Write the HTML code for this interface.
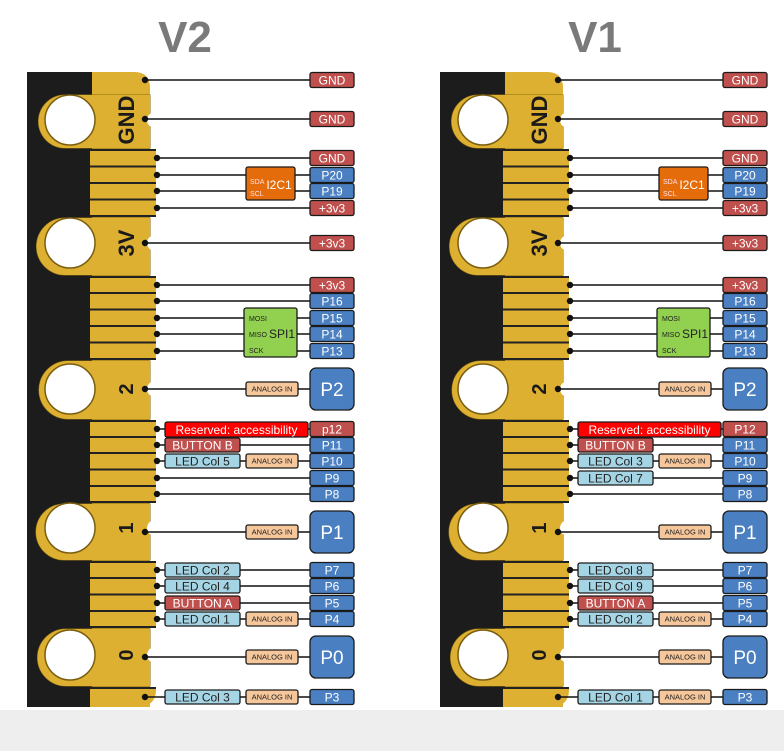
<!DOCTYPE html>
<html><head><meta charset="utf-8">
<style>
html,body{margin:0;padding:0;background:#fff;width:784px;height:751px;overflow:hidden}
svg{display:block}
text{font-family:"Liberation Sans",sans-serif}
</style></head>
<body>
<svg id="s" width="784" height="751" viewBox="0 0 784 751" xmlns="http://www.w3.org/2000/svg">
<rect x="0" y="710" width="784" height="41" fill="#eeeeee"/>
<text x="185" y="52" font-size="44" font-weight="bold" fill="#7a7a7a" text-anchor="middle">V2</text>
<text x="595" y="52" font-size="44" font-weight="bold" fill="#7a7a7a" text-anchor="middle">V1</text>
</svg>
<script>
const S=document.getElementById('s');const NS='http://www.w3.org/2000/svg';
function el(t,a,txt){const e=document.createElementNS(NS,t);for(const k in a)e.setAttribute(k,a[k]);if(txt!==undefined)e.textContent=txt;S.appendChild(e);return e;}
const RED='#c0504d',BLUE='#4a7fc1',LB='#a5d5e4',PE='#f7c79c',GOLD='#ddb031';
function box(x,y,w,h,fill,txt,fs,col,r){el('rect',{x:x,y:y,width:w,height:h,rx:r||2,fill:fill,stroke:'#1a1a1a','stroke-width':1.3});
 el('text',{x:x+w/2,y:y+h/2+fs*0.36,'font-size':fs,fill:col||'#fff','text-anchor':'middle'},txt);}
function line(x1,y1,x2,y2){el('line',{x1:x1,y1:y1,x2:x2,y2:y2,stroke:'#111','stroke-width':1.6});}
function panel(o,v1){
 el('rect',{x:o+27,y:72,width:66,height:635,fill:'#1c1c1c'});
 el('path',{d:`M${o+92} 72 H${o+134} Q${o+150} 72 ${o+150} 88 V707 H${o+92} Z`,fill:GOLD});
 const groups=[[150,216,[158,175,191,208]],[277,359,[285,301,318,334,351]],[421,502,[429,445,461,478,494]],[562,627,[570,586,603,619]]];
 groups.forEach(g=>{el('rect',{x:o+90,y:g[0],width:66,height:g[1]-g[0],fill:GOLD});
  for(let i=0;i<g[2].length-1;i++){const m=(g[2][i]+g[2][i+1])/2;el('rect',{x:o+90,y:m-1,width:66,height:2,fill:'#222'});}
  el('rect',{x:o+90,y:g[0]-1,width:66,height:2,fill:'#222'});el('rect',{x:o+90,y:g[1]-1,width:66,height:2,fill:'#222'});});
 el('path',{d:`M${o+90} 688 H${o+156} V690 Q${o+156} 707 ${o+136} 707 H${o+90} Z`,fill:GOLD});
 el('rect',{x:o+90,y:687,width:66,height:2,fill:'#222'});
 const pads=[[93,150,120,'GND'],[216,277,243,'3V'],[359,421,389,'2'],[502,562,528,'1'],[627,688,655,'0']];
 pads.forEach(p=>{const t=p[0]+2,b=p[1]-2,c=p[2],r=Math.min(c-t,b-c);
  el('path',{d:`M${o+150} ${t} V${b} H${o+40+r} A${r} ${r} 0 0 1 ${o+40+r} ${t} Z`,fill:GOLD,stroke:'#8a6a10','stroke-width':1});
  el('path',{d:`M${o+150} ${t} V${b} H${o+40+r} A${r} ${r} 0 0 1 ${o+40+r} ${t} Z`,fill:GOLD});
  el('circle',{cx:o+70,cy:c,r:25,fill:'#fff',stroke:'#7a5e10','stroke-width':1.5});
  el('circle',{cx:o+155,cy:c,r:8,fill:'#fff'});
  const fs=p[3].length>1?22:20;
  el('text',{x:0,y:0,'font-size':fs,'font-weight':'bold',fill:'#1a1a1a','text-anchor':'middle',transform:`translate(${o+126} ${c}) rotate(-90)`,dy:fs*0.36},p[3]);});
 const LX=o+310,LW=44;
 function dot(x,y){el('circle',{cx:x,cy:y,r:3.2,fill:'#111'});}
 const rows=[[80,'GND',RED,145],[119,'GND',RED,145],[158,'GND',RED,157],[175,'P20',BLUE,157],[191,'P19',BLUE,157],[208,'+3v3',RED,157],[243,'+3v3',RED,145],
 [285,'+3v3',RED,157],[301,'P16',BLUE,157],[318,'P15',BLUE,157],[334,'P14',BLUE,157],[351,'P13',BLUE,157],
 [429,v1?'P12':'p12',RED,157],[445,'P11',BLUE,157],[461,'P10',BLUE,157],[478,'P9',BLUE,157],[494,'P8',BLUE,157],
 [570,'P7',BLUE,157],[586,'P6',BLUE,157],[603,'P5',BLUE,157],[619,'P4',BLUE,157],[697,'P3',BLUE,145]];
 rows.forEach(r=>{line(o+r[3],r[0],LX,r[0]);dot(o+r[3],r[0]);});
 [[389,'P2'],[532,'P1'],[657,'P0']].forEach(b=>{line(o+145,b[0],LX,b[0]);dot(o+145,b[0]);});
 box(o+246,167,49,33,'#e46c0a','',9);
 el('text',{x:o+250,y:184,'font-size':7,fill:'#fde'},'SDA');el('text',{x:o+250,y:196,'font-size':7,fill:'#fde'},'SCL');
 el('text',{x:o+279,y:189,'font-size':12,fill:'#fff','text-anchor':'middle'},'I2C1');
 box(o+244,308,53,49,'#92d050','',9);
 el('text',{x:o+249,y:321,'font-size':7,fill:'#222'},'MOSI');el('text',{x:o+249,y:337,'font-size':7,fill:'#222'},'MISO');el('text',{x:o+249,y:353,'font-size':7,fill:'#222'},'SCK');
 el('text',{x:o+282,y:338,'font-size':12,fill:'#222','text-anchor':'middle'},'SPI1');
 const an=[389,461,532,619,657,697];
 an.forEach(y=>box(o+246,y-7,52,14,PE,'ANALOG IN',7.5,'#222'));
 box(o+165,422,143,15,'#ff0000','Reserved: accessibility',12);
 box(o+165,438,75,14,RED,'BUTTON B',12);
 const L=v1?['LED Col 3','LED Col 7','LED Col 8','LED Col 9','LED Col 2','LED Col 1']:['LED Col 5',null,'LED Col 2','LED Col 4','LED Col 1','LED Col 3'];
 box(o+165,454,75,14,LB,L[0],12,'#222');
 if(L[1])box(o+165,471,75,14,LB,L[1],12,'#222');
 box(o+165,563,75,14,LB,L[2],12,'#222');
 box(o+165,579,75,14,LB,L[3],12,'#222');
 box(o+165,596,75,14,RED,'BUTTON A',12);
 box(o+165,612,75,14,LB,L[4],12,'#222');
 box(o+165,690,75,14,LB,L[5],12,'#222');
 rows.forEach(r=>box(LX,r[0]-7.5,LW,15,r[2],r[1],12));
 [[389,'P2'],[532,'P1'],[657,'P0']].forEach(b=>box(LX,b[0]-21,LW,42,BLUE,b[1],19,'#fff',6));
}
panel(0,false);panel(413,true);
</script>
</body></html>
